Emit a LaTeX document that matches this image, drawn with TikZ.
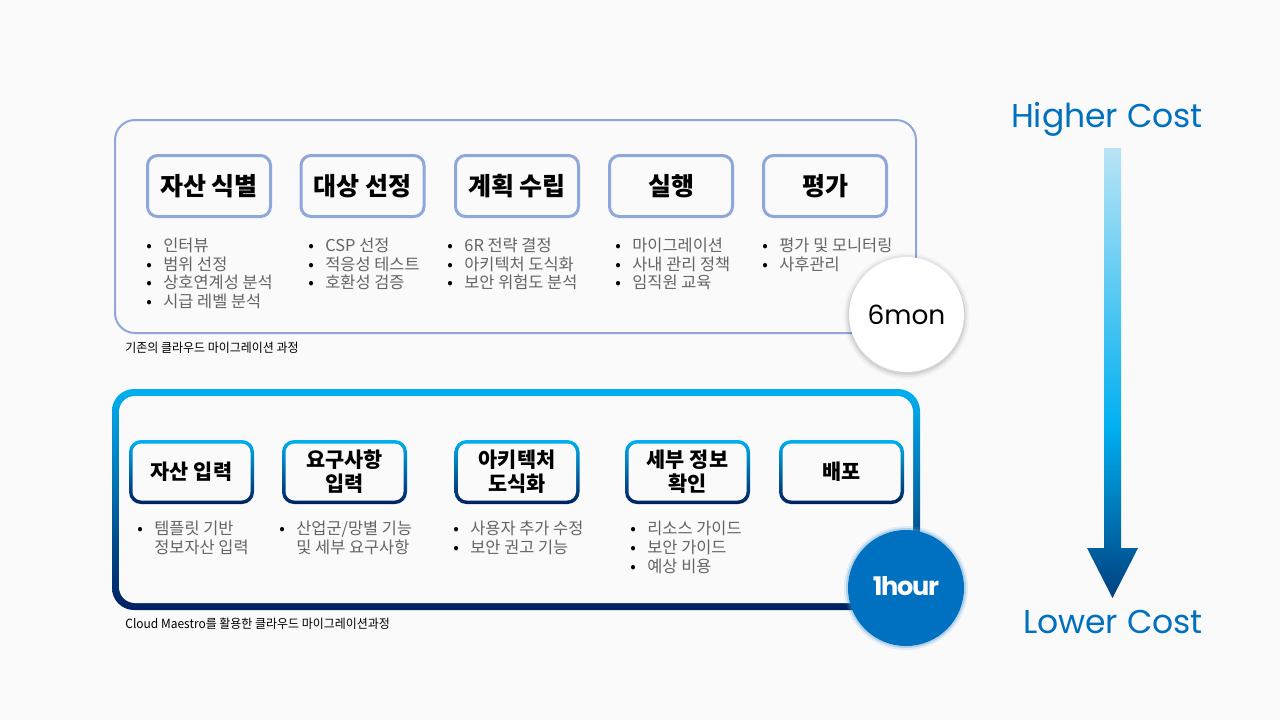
\documentclass[tikz,border=0pt]{standalone}
\usepackage{fontspec}
\setmainfont{Noto Sans CJK KR}
\newfontfamily\capfont{Noto Sans CJK KR}[FakeStretch=0.95]
\newfontfamily\numfont{Poppins}
\newfontfamily\tightfont{Poppins}[LetterSpace=-5]
\usetikzlibrary{positioning}

\definecolor{bg}{RGB}{250,250,250}
\definecolor{oldblue}{RGB}{142,168,219}
\definecolor{cyanb}{RGB}{0,176,240}
\definecolor{navyb}{RGB}{0,32,96}
\definecolor{costblue}{RGB}{0,112,192}
\definecolor{bultxt}{RGB}{100,100,100}
\definecolor{arrdark}{RGB}{0,64,128}
\definecolor{arrlight}{RGB}{185,228,246}

\pgfdeclareverticalshading{costshade}{100bp}{color(0bp)=(arrdark); color(25bp)=(arrdark);
    color(44bp)=(cyanb); color(75bp)=(arrlight); color(100bp)=(arrlight)}

\newcommand{\itm}{\makebox[8.5pt][l]{\color{black}\textbullet}}
\newcommand{\hang}{\hspace*{8.5pt}}

\tikzset{
        frame_old/.style = {rectangle, draw=oldblue, line width=1pt, fill=bg,
            rounded corners=10pt, minimum width=400.5pt, minimum height=106.5pt},
        frame_new/.style = {rectangle, rounded corners=11pt, inner sep=0pt,
            top color=cyanb, bottom color=navyb,
            minimum width=404pt, minimum height=110.5pt,
            path picture={\fill[bg, rounded corners=8pt]
                ([shift={(3.5pt,-3.5pt)}]path picture bounding box.north west) rectangle
                ([shift={(-3.5pt,3.5pt)}]path picture bounding box.south east);}},
        step_old/.style = {rectangle, draw=oldblue, line width=1.5pt, fill=bg,
            rounded corners=5pt, minimum width=61.5pt, minimum height=30.5pt,
            inner sep=0pt, font=\fontsize{12.5}{14}\selectfont\bfseries},
        step_new/.style = {rectangle, rounded corners=6pt, inner sep=0pt,
            top color=cyanb, bottom color=navyb,
            minimum width=62.5pt, minimum height=32pt, align=center,
            font=\fontsize{10.4}{12}\selectfont\bfseries,
            path picture={\fill[bg, rounded corners=4.5pt]
                ([shift={(1.75pt,-1.75pt)}]path picture bounding box.north west) rectangle
                ([shift={(-1.75pt,1.75pt)}]path picture bounding box.south east);}},
        bul_list/.style = {anchor=north west, inner sep=0pt, align=left, text=bultxt,
            font=\fontsize{8.2}{9.3}\selectfont},
        cap_txt/.style = {anchor=west, inner sep=0pt, font=\capfont\fontsize{6.3}{7}\selectfont},
        cost_txt/.style = {inner sep=0pt, text=costblue, font=\numfont\fontsize{16.5}{18}\selectfont},
        time_old/.style = {circle, fill=white, minimum size=57.5pt, inner sep=0pt,
            font=\numfont\fontsize{13.2}{15}\selectfont},
        time_new/.style = {circle, fill=costblue, minimum size=58pt, inner sep=0pt, text=white,
            font=\tightfont\fontsize{12.8}{15}\selectfont\bfseries}
    }

\begin{document}
\begin{tikzpicture}[x=0.5pt, y=-0.5pt]
    \fill[bg] (0,0) rectangle (1280,720);
    \useasboundingbox (0,0) rectangle (1280,720);

    % existing migration process
    \node [frame_old] (oldframe) at (515.5,226.5) {};
    \node [step_old] (o1) at (209,186) {자산 식별};
    \node [step_old] (o2) at (362.5,186) {대상 선정};
    \node [step_old] (o3) at (517,186) {계획 수립};
    \node [step_old] (o4) at (671,186) {실행};
    \node [step_old] (o5) at (825,186) {평가};

    \node [bul_list] (ol1) at (146,237.5) {\itm 인터뷰\\ \itm 범위 선정\\ \itm 상호연계성 분석\\ \itm 시급 레벨 분석};
    \node [bul_list] (ol2) at (308,237.5) {\itm CSP 선정\\ \itm 적응성 테스트\\ \itm 호환성 검증};
    \node [bul_list] (ol3) at (447,237.5) {\itm 6R 전략 결정\\ \itm 아키텍처 도식화\\ \itm 보안 위험도 분석};
    \node [bul_list] (ol4) at (615,237.5) {\itm 마이그레이션\\ \itm 사내 관리 정책\\ \itm 임직원 교육};
    \node [bul_list] (ol5) at (762,237.5) {\itm 평가 및 모니터링\\ \itm 사후관리};
    \node [cap_txt] (oldcap) at (125,348) {기존의 클라우드 마이그레이션 과정};

    \foreach \r/\o in {31.5/0.03, 30.5/0.05, 29.5/0.08}
        \fill [black, opacity=\o] (906.5,316) circle (\r pt);
    \node [time_old] (six) at (906.5,314.5) {\raisebox{-1pt}{6mon}};

    % migration with Cloud Maestro
    \node [frame_new] (newframe) at (516,499.5) {};
    \node [step_new] (n1) at (191.5,472) {자산 입력};
    \node [step_new] (n2) at (344.5,472) {요구사항\\입력};
    \node [step_new] (n3) at (517,472) {아키텍처\\도식화};
    \node [step_new] (n4) at (687.5,472) {세부 정보\\확인};
    \node [step_new] (n5) at (841.5,472) {배포};

    \node [bul_list] (nl1) at (137,521) {\itm 템플릿 기반\\ \hang 정보자산 입력};
    \node [bul_list] (nl2) at (279,521) {\itm 산업군/망별 기능\\ \hang 및 세부 요구사항};
    \node [bul_list] (nl3) at (453,521) {\itm 사용자 추가 수정\\ \itm 보안 권고 기능};
    \node [bul_list] (nl4) at (630,521) {\itm 리소스 가이드\\ \itm 보안 가이드\\ \itm 예상 비용};
    \node [cap_txt] (newcap) at (125,624) {Cloud Maestro를 활용한 클라우드 마이그레이션과정};

    \foreach \r/\o in {31/0.15, 30/0.3}
        \fill [costblue!70, opacity=\o] (906,588) circle (\r pt);
    \node [time_new] (one) at (906,588) {\raisebox{2pt}{1hour}};

    % cost arrow
    \node [cost_txt] (high) at (1107,119) {Higher Cost};
    \node [cost_txt] (low) at (1113,622) {Lower Cost};
    \coordinate (atop) at (1112.5,148);
    \coordinate (abot) at (1112.5,598);
    \shade [shading=costshade] ([xshift=-4.25pt]atop) -- ([xshift=4.25pt]atop)
        -- ([xshift=4.25pt,yshift=25pt]abot) -- ([xshift=12.75pt,yshift=25pt]abot)
        -- (abot) -- ([xshift=-12.75pt,yshift=25pt]abot)
        -- ([xshift=-4.25pt,yshift=25pt]abot) -- cycle;
\end{tikzpicture}
\end{document}
